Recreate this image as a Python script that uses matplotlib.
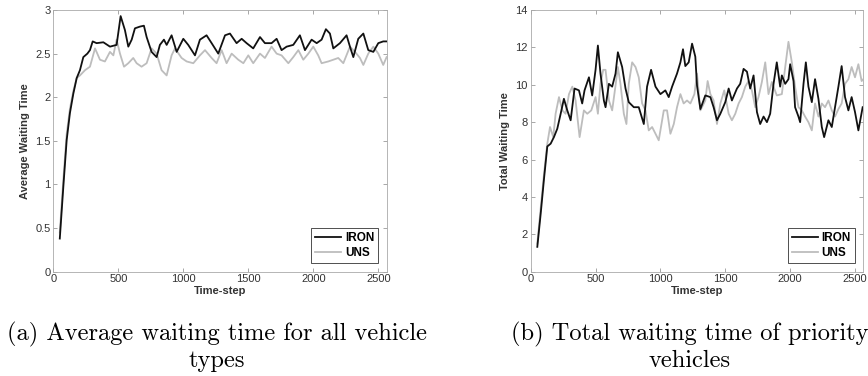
import matplotlib.pyplot as plt
import numpy as np

# Left panel: average waiting time (all vehicle types)
t_iron_a = [50, 77, 103, 128, 154, 180, 205, 231, 262, 282, 303, 333, 385, 436, 487, 518, 551, 577,
            603, 628, 667, 697, 718, 756, 795, 820, 851, 872, 910, 949, 1000, 1038, 1090, 1128,
            1179, 1218, 1269, 1321, 1359, 1410, 1449, 1487, 1538, 1590, 1628, 1679, 1718, 1756,
            1795, 1846, 1897, 1936, 1987, 2026, 2064, 2097, 2128, 2154, 2205, 2256, 2282, 2308,
            2346, 2385, 2423, 2462, 2500, 2538, 2564]
iron_a = [0.38, 0.97, 1.51, 1.82, 2.04, 2.22, 2.31, 2.46, 2.50, 2.54, 2.64, 2.62, 2.63, 2.58, 2.60,
          2.93, 2.77, 2.58, 2.66, 2.79, 2.81, 2.82, 2.69, 2.52, 2.46, 2.60, 2.66, 2.60, 2.71, 2.52,
          2.67, 2.60, 2.48, 2.66, 2.71, 2.62, 2.50, 2.71, 2.73, 2.62, 2.67, 2.62, 2.56, 2.69, 2.62,
          2.62, 2.67, 2.54, 2.58, 2.60, 2.71, 2.54, 2.66, 2.62, 2.66, 2.78, 2.73, 2.56, 2.62, 2.71,
          2.58, 2.46, 2.67, 2.73, 2.54, 2.52, 2.62, 2.64, 2.64]

t_uns_a = [50, 77, 103, 128, 154, 180, 205, 244, 282, 321, 359, 397, 436, 462, 487, 513, 544, 577,
           615, 641, 679, 718, 756, 795, 833, 872, 910, 936, 987, 1026, 1077, 1128, 1167, 1218,
           1256, 1295, 1333, 1372, 1423, 1462, 1500, 1538, 1590, 1628, 1679, 1718, 1756, 1808,
           1846, 1885, 1923, 1962, 2000, 2038, 2064, 2115, 2154, 2192, 2231, 2282, 2321, 2359,
           2385, 2423, 2462, 2500, 2538, 2564]
uns_a = [0.45, 1.05, 1.58, 1.87, 2.07, 2.22, 2.25, 2.31, 2.35, 2.56, 2.43, 2.41, 2.52, 2.48, 2.66,
         2.50, 2.35, 2.39, 2.45, 2.39, 2.35, 2.39, 2.56, 2.50, 2.31, 2.25, 2.48, 2.56, 2.45, 2.41,
         2.39, 2.48, 2.54, 2.45, 2.39, 2.54, 2.39, 2.50, 2.43, 2.39, 2.48, 2.39, 2.50, 2.45, 2.58,
         2.50, 2.48, 2.39, 2.46, 2.54, 2.43, 2.50, 2.58, 2.48, 2.39, 2.41, 2.43, 2.45, 2.39, 2.58,
         2.52, 2.45, 2.37, 2.50, 2.58, 2.50, 2.37, 2.46]

# Right panel: total waiting time of priority vehicles
t_iron_b = [51, 77, 103, 128, 154, 179, 205, 231, 256, 282, 308, 338, 372, 397, 415, 449, 474, 500,
            518, 538, 564, 577, 603, 628, 654, 672, 705, 731, 756, 795, 833, 872, 897, 928, 962,
            1000, 1038, 1064, 1090, 1128, 1154, 1174, 1192, 1218, 1244, 1269, 1282, 1308, 1346,
            1385, 1410, 1436, 1462, 1500, 1526, 1551, 1590, 1615, 1641, 1667, 1692, 1718, 1744,
            1769, 1795, 1821, 1846, 1872, 1897, 1923, 1936, 1962, 1987, 2000, 2026, 2038, 2064,
            2077, 2103, 2121, 2141, 2167, 2192, 2218, 2244, 2262, 2295, 2321, 2346, 2372, 2397,
            2423, 2449, 2474, 2500, 2526, 2559]
iron_b = [1.33, 3.1, 5.0, 6.7, 6.85, 7.2, 7.65, 8.45, 9.25, 8.63, 8.1, 9.8, 9.7, 9.0, 9.7, 10.4,
          9.43, 10.8, 12.1, 10.6, 9.16, 8.8, 10.05, 9.9, 10.6, 11.74, 10.95, 9.8, 9.07, 8.8, 8.8,
          7.9, 9.9, 10.8, 9.9, 9.5, 9.7, 9.34, 9.9, 10.6, 11.2, 11.9, 11.0, 11.2, 12.2, 11.5, 9.96,
          8.7, 9.43, 9.34, 8.8, 8.1, 8.45, 9.07, 9.8, 9.16, 9.8, 10.05, 10.85, 10.7, 9.8, 10.5,
          8.54, 7.9, 8.3, 8.0, 8.45, 10.05, 11.2, 9.9, 10.5, 10.05, 10.3, 11.1, 10.2, 8.8, 8.3, 8.0,
          10.05, 11.2, 9.9, 9.07, 10.3, 9.25, 7.74, 7.2, 8.1, 7.74, 8.8, 9.9, 11.0, 9.34, 8.63,
          9.34, 8.54, 7.56, 8.8]

t_uns_b = [51, 77, 103, 128, 149, 174, 192, 218, 244, 269, 295, 321, 346, 377, 410, 436, 467, 500,
           518, 538, 559, 577, 603, 628, 654, 672, 692, 718, 738, 756, 782, 808, 833, 859, 885,
           910, 936, 962, 987, 1026, 1051, 1077, 1103, 1128, 1154, 1179, 1205, 1231, 1262, 1282,
           1308, 1346, 1364, 1385, 1410, 1436, 1462, 1492, 1526, 1551, 1577, 1603, 1628, 1654,
           1679, 1705, 1731, 1756, 1782, 1808, 1833, 1859, 1897, 1936, 1962, 1987, 2013, 2038,
           2064, 2090, 2115, 2141, 2167, 2192, 2218, 2244, 2269, 2295, 2321, 2346, 2372, 2397,
           2423, 2449, 2474, 2500, 2526, 2551, 2564]
uns_b = [1.5, 3.4, 5.25, 6.85, 7.74, 7.2, 8.45, 9.34, 8.63, 8.45, 9.5, 9.9, 9.16, 7.2, 8.63, 8.45,
         8.63, 9.34, 8.45, 10.05, 10.8, 10.8, 9.16, 8.63, 9.96, 10.95, 10.05, 8.45, 7.9, 10.05,
         11.2, 10.95, 10.4, 9.0, 8.63, 7.56, 7.74, 7.38, 7.03, 8.63, 8.63, 7.38, 7.9, 8.8, 9.5,
         9.0, 9.16, 9.0, 9.5, 10.6, 8.63, 9.16, 10.2, 9.5, 9.16, 7.9, 9.0, 9.7, 8.45, 8.1, 8.45,
         9.0, 9.34, 9.9, 10.2, 9.7, 8.8, 9.34, 10.15, 11.2, 9.5, 10.15, 9.43, 9.5, 10.95, 12.3,
         11.2, 9.9, 8.8, 8.63, 8.3, 8.0, 7.56, 9.0, 8.3, 9.0, 8.8, 9.16, 8.63, 8.3, 8.7, 9.0,
         10.05, 10.3, 10.95, 10.4, 11.1, 10.2, 10.3]

xticks = [0, 500, 1000, 1500, 2000, 2500]
yticks_a = [0, 0.5, 1, 1.5, 2, 2.5, 3]
ytick_labels_a = ['0', '0.5', '1', '1.5', '2', '2.5', '3']
yticks_b = [0, 2, 4, 6, 8, 10, 12, 14]
labels = ['IRON', 'UNS']
ylabels = ['Average Waiting Time', 'Total Waiting Time']
captions = ['(a) Average waiting time for all vehicle\ntypes',
            '(b) Total waiting time of priority\nvehicles']

plt.rcParams['font.family'] = ['Liberation Sans', 'DejaVu Sans']

fig = plt.figure(figsize=(8.68, 3.76), dpi=100)
ax1 = fig.add_axes([0.0614, 0.2774, 0.384, 0.696])
ax2 = fig.add_axes([0.6114, 0.2774, 0.3832, 0.696])

panels = [(ax1, t_iron_a, iron_a, t_uns_a, uns_a, (0, 3), yticks_a, ytick_labels_a),
          (ax2, t_iron_b, iron_b, t_uns_b, uns_b, (0, 14), yticks_b, [str(v) for v in yticks_b])]

for i, (ax, ti, yi, tu, yu, ylim, yt, ytl) in enumerate(panels):
    ax.plot(tu, yu, color='#bdbdbd', lw=1.3, label=labels[1], zorder=2)
    ax.plot(ti, yi, color='#111111', lw=1.3, label=labels[0], zorder=3)
    ax.set_xlim(0, 2564)
    ax.set_ylim(*ylim)
    ax.set_xticks(xticks)
    ax.set_xticklabels([str(v) for v in xticks])
    ax.set_yticks(yt)
    ax.set_yticklabels(ytl)
    ax.tick_params(direction='in', length=3, width=0.6, colors='#999999',
                   labelcolor='#333333', labelsize=8, top=True, right=True, pad=2)
    for s in ax.spines.values():
        s.set_color('#aaaaaa')
        s.set_linewidth(0.6)
    ax.set_xlabel('Time-step', fontweight='bold', fontsize=8, color='#333333', labelpad=1)
    ax.set_ylabel(ylabels[i], fontweight='bold', fontsize=8, color='#333333', labelpad=4)
    h, l = ax.get_legend_handles_labels()
    leg = ax.legend(h[::-1], l[::-1], loc='lower right', prop={'weight': 'bold', 'size': 8.5},
                    frameon=True, fancybox=False, edgecolor='#333333', framealpha=1,
                    handlelength=2.2, handletextpad=0.3, borderpad=0.35, labelspacing=0.3,
                    borderaxespad=0.7)
    leg.get_frame().set_linewidth(0.6)

fig.text(217 / 868, 1 - 347 / 376, captions[0], ha='center', va='center', fontsize=17.6,
         family='cmr10', linespacing=1.12)
fig.text(690 / 868, 1 - 347 / 376, captions[1], ha='center', va='center', fontsize=17.6,
         family='cmr10', linespacing=1.12)

fig.savefig('out.png', dpi=100)
